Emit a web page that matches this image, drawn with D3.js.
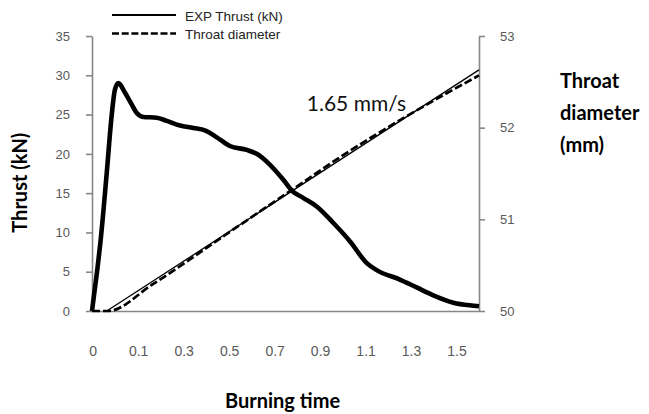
<!DOCTYPE html>
<html>
<head>
<meta charset="utf-8">
<script src="https://cdn.jsdelivr.net/npm/d3@7"></script>
<style>
  html, body { margin: 0; padding: 0; background: #fff; }
  svg { display: block; }
</style>
</head>
<body>
<svg id="chart" width="649" height="414"></svg>
<script>
// ---------------- data ----------------
const seriesNames = ["EXP Thrust (kN)", "Throat diameter"];

// thrust curve (s, kN)
const thrustTime = [0, 0.02, 0.036, 0.061, 0.081, 0.095, 0.109, 0.136, 0.164, 0.185, 0.212, 0.267, 0.309, 0.364, 0.419,
  0.474, 0.516, 0.570, 0.640, 0.681, 0.736, 0.791, 0.827, 0.873, 0.929, 0.998, 1.067, 1.136, 1.177, 1.273, 1.342,
  1.411, 1.494, 1.590, 1.6];
const thrustValues = [0, 4.8, 9.1, 17.6, 24.8, 28.2, 29.0, 27.8, 26.3, 25.2, 24.7, 24.6, 24.2, 23.6, 23.3,
  22.9, 22.1, 21.0, 20.5, 20.0, 18.6, 16.7, 15.3, 14.4, 13.3, 11.2, 8.85, 6.1, 5.2, 4.0, 3.0,
  2.0, 1.06, 0.64, 0.6];

// throat diameter (s, mm)
const diamTime = [0, 0.066, 0.25, 0.54, 0.82, 1.05, 1.33, 1.6];
const diamValues = [50, 50, 50.29, 50.81, 51.31, 51.72, 52.17, 52.57];

// linear regression line of throat diameter (s, mm)
const fitTime = [0.061, 1.6];
const fitValues = [50, 52.63];

// axis tick labels
const xTickLabels = ["0", "0.1", "0.3", "0.5", "0.7", "0.9", "1.1", "1.3", "1.5"];
const yLeftTicks = [0, 5, 10, 15, 20, 25, 30, 35];
const yRightTicks = [50, 51, 52, 53];

// annotation
const rateLabel = "1.65 mm/s";
const rateLabelAt = [0.888, 25.45]; // (time, thrust)

// ---------------- layout ----------------
const svg = d3.select("#chart");
const margin = { left: 92, top: 36, right: 170, bottom: 103 };
const W = 649, H = 414;
const width = W - margin.left - margin.right;
const height = H - margin.top - margin.bottom;
const g = svg.append("g").attr("transform", `translate(${margin.left},${margin.top})`);

const x = d3.scaleLinear().domain([0, 1.6]).range([0, width]);
const yL = d3.scaleLinear().domain([0, 35]).range([height, 0]);
const yR = d3.scaleLinear().domain([50, 53]).range([height, 0]);
const xLab = d3.scalePoint().domain(xTickLabels).range([0.7, width * 0.942]);

const axisColor = "#878787";
const tickTextColor = "#595959";

// left axis
const gl = g.append("g")
  .call(d3.axisLeft(yL).tickValues(yLeftTicks).tickSizeInner(6).tickSizeOuter(0).tickPadding(16));
// right axis
const gr = g.append("g").attr("transform", `translate(${width},0)`)
  .call(d3.axisRight(yR).tickValues(yRightTicks).tickSizeInner(6).tickSizeOuter(0).tickPadding(15).tickFormat(d3.format("d")));
// bottom axis line
const gb = g.append("g").attr("transform", `translate(0,${height})`)
  .call(d3.axisBottom(x).tickValues([]).tickSizeOuter(0));
// bottom labels
const gbl = g.append("g").attr("transform", `translate(0,${height})`)
  .call(d3.axisBottom(xLab).tickSize(0).tickPadding(35));
gbl.select(".domain").remove();

[gl, gr, gb].forEach(a => {
  a.select(".domain").attr("stroke", axisColor).attr("stroke-width", 1.6);
  a.selectAll(".tick line").attr("stroke", axisColor).attr("stroke-width", 1.6);
});
[gl, gr].forEach(a => a.selectAll(".tick text")
  .attr("fill", tickTextColor).style("font-family", "'Liberation Sans', Arial, sans-serif").style("font-size", "13px"));
gbl.selectAll(".tick text")
  .attr("fill", tickTextColor).style("font-family", "'Liberation Sans', Arial, sans-serif").style("font-size", "14px");

// ---------------- lines ----------------
const thrustData = thrustTime.map((t, i) => [t, thrustValues[i]]);
const diamData = diamTime.map((t, i) => [t, diamValues[i]]);
const fitData = fitTime.map((t, i) => [t, fitValues[i]]);

const lineThrust = d3.line().x(d => x(d[0])).y(d => yL(d[1])).curve(d3.curveMonotoneX);
const lineDiam = d3.line().x(d => x(d[0])).y(d => yR(d[1])).curve(d3.curveMonotoneX);
const lineFit = d3.line().x(d => x(d[0])).y(d => yR(d[1]));

g.append("path").datum(fitData).attr("d", lineFit)
  .attr("fill", "none").attr("stroke", "#000").attr("stroke-width", 1.3);
g.append("path").datum(diamData).attr("d", lineDiam)
  .attr("fill", "none").attr("stroke", "#000").attr("stroke-width", 2.7)
  .attr("stroke-dasharray", "8,3");
g.append("path").datum(thrustData).attr("d", lineThrust)
  .attr("fill", "none").attr("stroke", "#000").attr("stroke-width", 4.6)
  .attr("stroke-linejoin", "round").attr("stroke-linecap", "butt");

// annotation
g.append("text").attr("x", x(rateLabelAt[0])).attr("y", yL(rateLabelAt[1]))
  .text(rateLabel).attr("fill", "#111")
  .style("font-family", "Lato, 'Open Sans', sans-serif").style("font-size", "21px");

// ---------------- legend ----------------
const legend = svg.append("g").attr("transform", "translate(112,0)");
const legendStyles = [{ dash: null, w: 2.2 }, { dash: "7,2.7", w: 2.4 }];
seriesNames.forEach((name, i) => {
  const yy = 15 + i * 18.5;
  legend.append("line").attr("x1", 0).attr("x2", 64).attr("y1", yy).attr("y2", yy)
    .attr("stroke", "#000").attr("stroke-width", legendStyles[i].w)
    .attr("stroke-dasharray", legendStyles[i].dash);
  legend.append("text").attr("x", 73).attr("y", yy + 5.5).text(name)
    .attr("fill", "#222").style("font-family", "'Liberation Sans', Arial, sans-serif").style("font-size", "13.5px");
});

// ---------------- axis titles ----------------
const titleFont = "Lato, 'Open Sans', sans-serif";
svg.append("text").attr("transform", "translate(26.7,232.7) rotate(-90)")
  .text("Thrust (kN)").attr("fill", "#000")
  .style("font-family", titleFont).style("font-weight", "bold").style("font-size", "20px");
svg.append("text").attr("x", 225).attr("y", 407.5).text("Burning time").attr("fill", "#000")
  .style("font-family", titleFont).style("font-weight", "bold").style("font-size", "20px");
["Throat", "diameter", "(mm)"].forEach((s, i) => {
  svg.append("text").attr("x", 560).attr("y", 88 + i * 32).text(s).attr("fill", "#000")
    .style("font-family", titleFont).style("font-weight", "bold").style("font-size", "20px");
});
</script>
</body>
</html>
